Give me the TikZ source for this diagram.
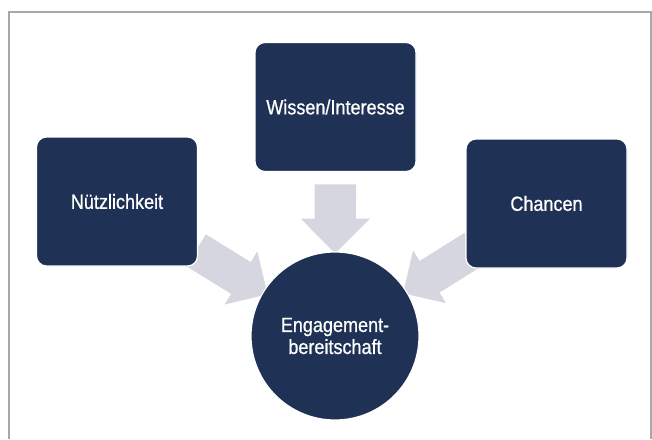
\documentclass[tikz,border=0pt]{standalone}
\usepackage{fontspec}
\newfontfamily\boxfont{Liberation Sans}[FakeStretch=0.88, FakeBold=0.7]
\usetikzlibrary{shapes.arrows, backgrounds}
\definecolor{boxblue}{RGB}{31,50,86}
\definecolor{arrowgray}{RGB}{214,214,225}
\definecolor{framegray}{RGB}{168,168,168}

\begin{document}
\begin{tikzpicture}[x=1pt, y=-1pt,
  factorbox/.style={rectangle, rounded corners=10pt, fill=boxblue, draw=white, line width=1.2pt,
    minimum width=161pt, minimum height=129pt, text=white, align=center,
    font=\boxfont\fontsize{20.5}{22}\selectfont},
  goalcircle/.style={circle, fill=boxblue, draw=white, line width=1.2pt, minimum size=168pt,
    inner sep=0pt, text=white, align=center, font=\boxfont\fontsize{20.5}{22}\selectfont},
  blockarrow/.style n args={3}{single arrow, fill=arrowgray, draw=none, inner xsep=0pt,
    inner ysep=#1, single arrow head extend=#2, minimum height=#3,
    sloped, allow upside down}]
\useasboundingbox (0,0) rectangle (652,439);

% Factors and goal
\node[factorbox] (wissen) at (335.5,107) {Wissen/Interesse};
\node[factorbox] (nutz) at (117,201.5) {Nützlichkeit};
\node[factorbox] (chancen) at (546.5,203.5) {Chancen};
\node[goalcircle] (eng) at (335,336) {Engagement-\\bereitschaft};

\begin{scope}[on background layer]
% Frame
\draw[framegray, line width=1.3pt] (9,439) -- (9,12) -- (651,12) -- (651,439);
% Block arrows
\path (wissen.center) -- (eng.center) node[blockarrow={20.5pt}{14pt}{69pt}, pos=0.443] (arrW) {};
\path (nutz.center) -- (eng.center) node[blockarrow={18.5pt}{12.5pt}{84pt}, pos=0.49] (arrN) {};
\path (chancen.center) -- (eng.center) node[blockarrow={18.5pt}{12.5pt}{84pt}, pos=0.472] (arrC) {};
\end{scope}
\end{tikzpicture}
\end{document}
